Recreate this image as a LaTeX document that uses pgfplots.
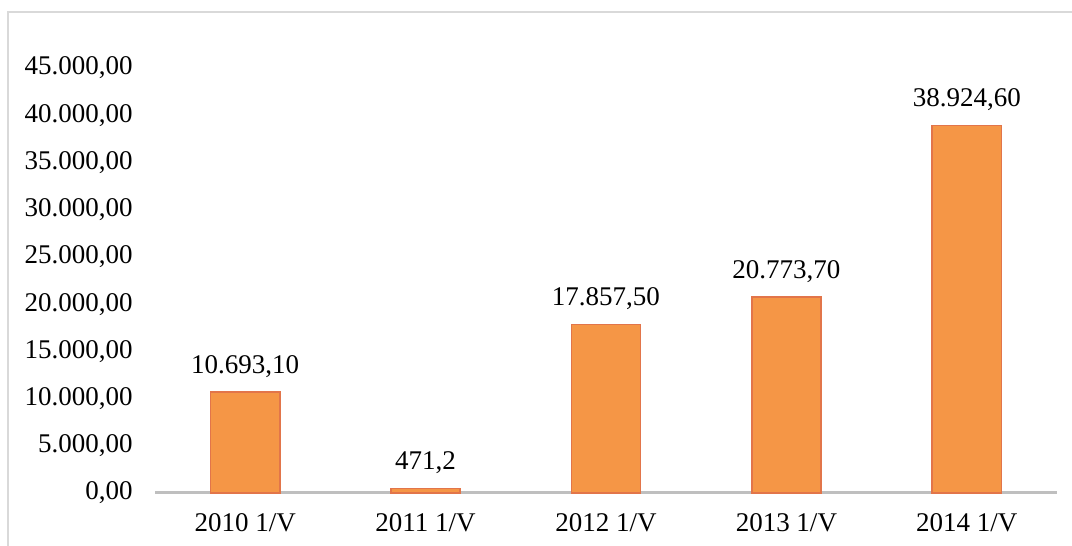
\documentclass[border=0pt]{standalone}
\usepackage{fontspec}
\setmainfont{Liberation Serif}
\usepackage{pgfplots}
\usepackage{pgfplotstable}
\pgfplotsset{compat=1.18}
\definecolor{barfill}{HTML}{F59646}
\definecolor{baredge}{HTML}{E2754A}
\definecolor{axisgray}{HTML}{BFBFBF}
\definecolor{framegray}{HTML}{D9D9D9}

\pgfplotstableread{
x y label
0 10693.1 10.693,10
1 471.2 471,2
2 17857.5 17.857,50
3 20773.7 20.773,70
4 38924.6 38.924,60
}\sales

\begin{document}
\begin{tikzpicture}
% 1 px of the reference = 0.5pt
\useasboundingbox (0,0) rectangle (536pt,273pt);
\draw[framegray, line width=1pt] (4pt,-2pt) -- (4pt,267pt) -- (540pt,267pt);
\begin{axis}[
    at={(77.5pt,26.5pt)},
    anchor=south west,
    scale only axis,
    width=451pt,
    height=212.5pt,
    xmin=-0.5, xmax=4.5,
    ymin=0, ymax=45000,
    axis x line*=bottom,
    axis y line*=left,
    x axis line style={-, draw=axisgray, line width=1.5pt},
    y axis line style={draw=none},
    major tick length=0pt,
    xtick=data,
    xticklabels={2010 1/V, 2011 1/V, 2012 1/V, 2013 1/V, 2014 1/V},
    ytick={0,5000,...,45000},
    scaled y ticks=false,
    yticklabel style={
        /pgf/number format/.cd, fixed, fixed zerofill, precision=2,
        use comma, 1000 sep={.}, assume math mode=true,
        /tikz/.cd, xshift=-7.7pt},
    xticklabel style={yshift=-6.5pt},
    tick label style={font=\fontsize{13.5}{16}\selectfont},
    ybar,
    bar width=0.3825,
    clip=false,
    nodes near coords,
    point meta=explicit symbolic,
    nodes near coords style={font=\fontsize{13.5}{16}\selectfont, black, yshift=3.5pt},
]
\addplot[fill=barfill, draw=baredge, line width=0.8pt] table[x=x, y=y, meta=label] {\sales};
\end{axis}
\end{tikzpicture}
\end{document}
